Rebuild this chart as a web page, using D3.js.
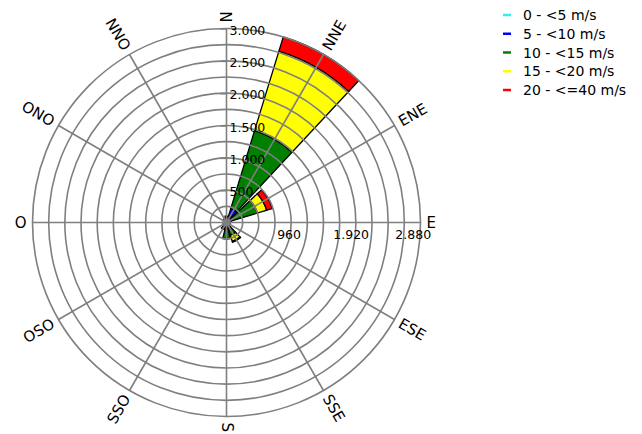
<!DOCTYPE html>
<html>
<head>
<meta charset="utf-8">
<script src="https://cdn.jsdelivr.net/npm/d3@7"></script>
<style>
  html, body { margin: 0; padding: 0; background: #fff; }
  svg { display: block; font-family: "DejaVu Sans", Verdana, sans-serif; }
</style>
</head>
<body>
<div id="chart"></div>
<script>
// wind rose, 12 sectors of 30 degrees
const directions = ["N", "NNE", "ENE", "E", "ESE", "SSE", "S", "SSO", "OSO", "O", "ONO", "NNO"];
const speedClasses = ["0 - <5 m/s", "5 - <10 m/s", "10 - <15 m/s", "15 - <20 m/s", "20 - <=40 m/s"];
const classColors = ["#33eeee", "#0000ff", "#007f00", "#ffff00", "#ff0000"];

// counts per direction for each speed class
const speed0to5   = [10, 20, 10, 10, 5, 5, 5, 5, 5, 5, 5, 5];
const speed5to10  = [40, 210, 70, 30, 20, 20, 30, 30, 20, 15, 15, 20];
const speed10to15 = [50, 1255, 420, 20, 20, 180, 200, 80, 30, 20, 20, 40];
const speed15to20 = [0, 1285, 150, 0, 0, 100, 20, 0, 0, 0, 0, 0];
const speed20to40 = [0, 230, 90, 0, 0, 15, 0, 0, 0, 0, 0, 0];

const ringValues = d3.range(250, 3001, 250);
const radialTicks = [500, 1000, 1500, 2000, 2500, 3000];
const eastTicks = [960, 1920, 2880];

const W = 642, H = 434;
const cx = 226.5, cy = 222.5, R = 194;
const HALF_WIDTH = 13; // degrees each side of the sector centre
const GRID = "#7f7f7f";

const fr = d3.formatLocale({ decimal: ",", thousands: ".", grouping: [3], currency: ["", " €"] });
const fmt = fr.format(",d");

const rows = directions.map((d, i) => ({
  dir: d,
  angle: i * 30,
  c0: speed0to5[i], c1: speed5to10[i], c2: speed10to15[i], c3: speed15to20[i], c4: speed20to40[i]
}));
const stack = d3.stack().keys(["c0", "c1", "c2", "c3", "c4"])(rows);

const r = d3.scaleLinear().domain([0, 3000]).range([0, R]);
const rad = deg => deg * Math.PI / 180;

const svg = d3.select("#chart").append("svg").attr("width", W).attr("height", H);
const g = svg.append("g").attr("transform", `translate(${cx},${cy})`);

// sectors
const arc = d3.arc();
stack.forEach((layer, k) => {
  g.append("g").selectAll("path")
    .data(layer.filter(d => d[1] > d[0]))
    .join("path")
    .attr("d", d => arc({
      innerRadius: r(d[0]), outerRadius: r(d[1]),
      startAngle: rad(d.data.angle - HALF_WIDTH), endAngle: rad(d.data.angle + HALF_WIDTH)
    }))
    .attr("fill", classColors[k])
    .attr("stroke", "#000")
    .attr("stroke-width", 1.3);
});

// grid on top
const grid = g.append("g").attr("stroke", GRID).attr("stroke-width", 1.6).attr("fill", "none");
grid.selectAll("circle").data(ringValues).join("circle").attr("r", d => r(d));
grid.selectAll("line").data(rows).join("line")
  .attr("x1", 0).attr("y1", 0)
  .attr("x2", d => R * Math.sin(rad(d.angle)))
  .attr("y2", d => -R * Math.cos(rad(d.angle)));
g.append("circle").attr("r", 4).attr("fill", GRID);

// radial axis along N
const yAxisScale = d3.scaleLinear().domain([0, 3000]).range([0, -R]);
g.append("g")
  .call(d3.axisRight(yAxisScale).tickValues(radialTicks).tickSize(-6).tickPadding(3).tickFormat(fmt))
  .call(a => a.select(".domain").remove())
  .call(a => a.selectAll("line").attr("stroke", GRID).attr("stroke-width", 1.6))
  .call(a => a.selectAll("text").attr("font-size", 12.5).attr("font-family", "DejaVu Sans").attr("fill", "#000").attr("dy", "0.45em"));

// east axis labels
const xAxisScale = d3.scaleLinear().domain([0, 3000]).range([0, R]);
g.append("g")
  .call(d3.axisBottom(xAxisScale).tickValues(eastTicks).tickSize(0).tickPadding(8).tickFormat(fmt))
  .call(a => a.select(".domain").remove())
  .call(a => a.selectAll("text").attr("font-size", 12.5).attr("font-family", "DejaVu Sans").attr("fill", "#000"));

// direction labels
g.append("g").selectAll("text").data(rows).join("text")
  .attr("transform", d => {
    const x = (R + 6) * Math.sin(rad(d.angle));
    const y = -(R + 6) * Math.cos(rad(d.angle));
    const rot = d.angle <= 180 ? d.angle - 90 : d.angle - 270;
    return `translate(${x},${y}) rotate(${rot})`;
  })
  .attr("text-anchor", d => d.angle <= 180 ? "start" : "end")
  .attr("dominant-baseline", "central")
  .attr("font-size", 15)
  .text(d => d.dir);

// legend
const legend = svg.append("g").attr("transform", "translate(503,15)");
const item = legend.selectAll("g").data(speedClasses).join("g")
  .attr("transform", (d, i) => `translate(0,${i * 18.75})`);
item.append("line").attr("x1", 0).attr("x2", 8).attr("y1", 0).attr("y2", 0)
  .attr("stroke", (d, i) => classColors[i]).attr("stroke-width", 2.5);
item.append("text").attr("x", 20).attr("dominant-baseline", "central")
  .attr("font-size", 14).text(d => d);
</script>
</body>
</html>
